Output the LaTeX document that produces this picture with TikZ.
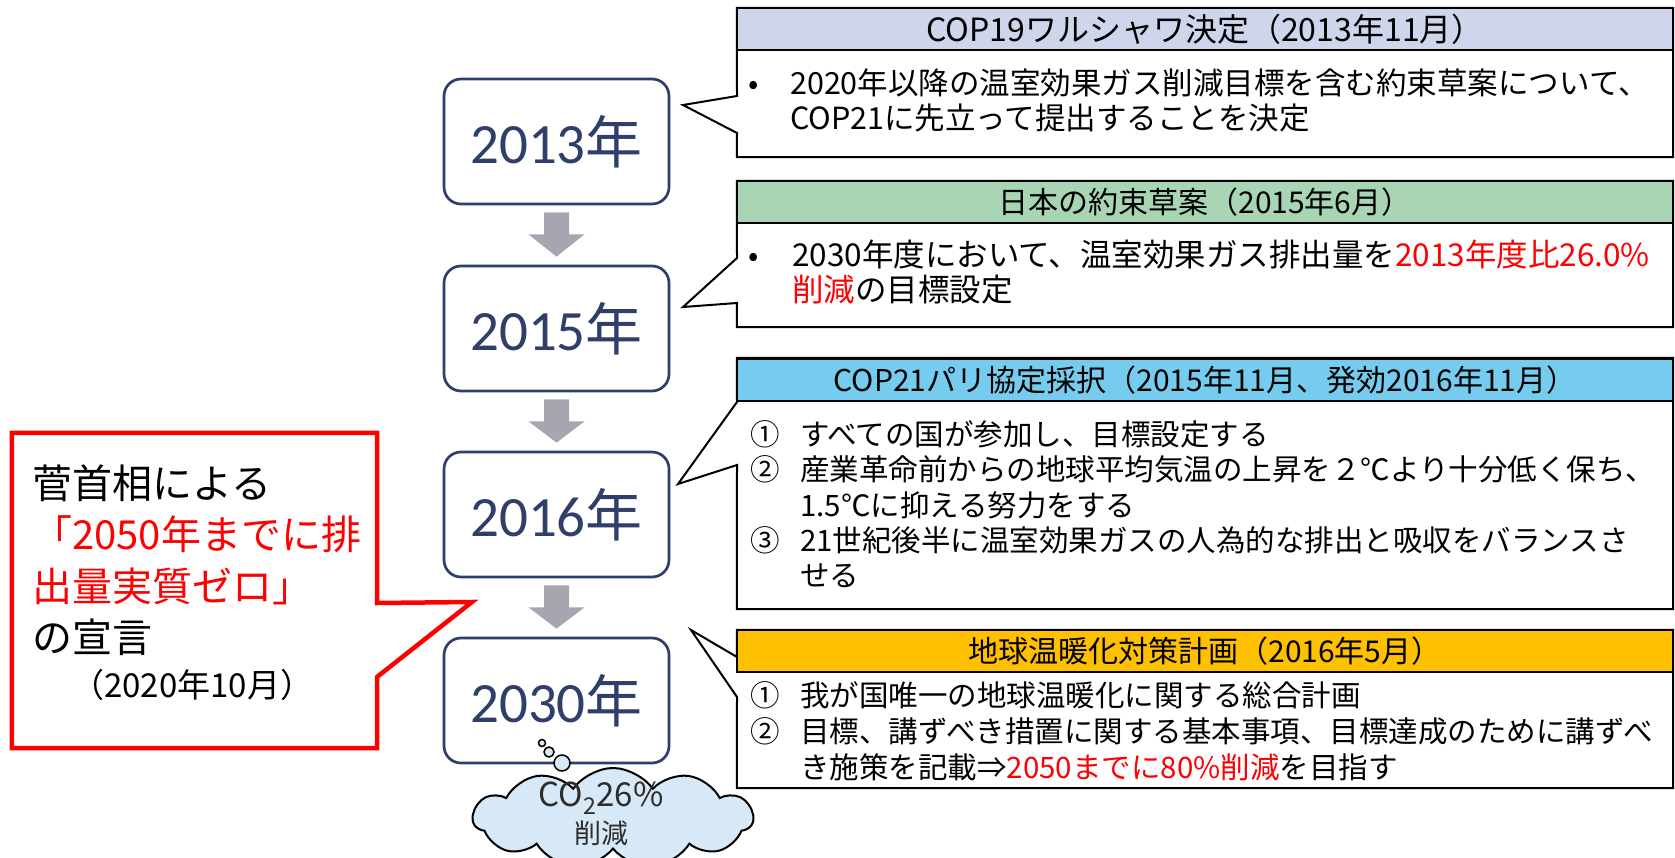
\documentclass[tikz,border=0pt]{standalone}
\usepackage{fontspec}
\setmainfont{Noto Sans CJK JP}
\newfontfamily\yearfont{Carlito}
\usetikzlibrary{shapes.symbols,calc}
\definecolor{navy}{RGB}{47,62,106}
\definecolor{agray}{RGB}{166,166,176}
\definecolor{hA}{RGB}{207,213,234}
\definecolor{hB}{RGB}{168,214,180}
\definecolor{hC}{RGB}{117,204,238}
\definecolor{hD}{RGB}{255,192,0}
\definecolor{cloudc}{RGB}{215,233,246}
\definecolor{redc}{RGB}{255,0,0}
\definecolor{cloudtext}{RGB}{45,45,45}
\newcommand\blockarrow[2]{%
  \fill[agray] ($(#1.south)+(-12.5,7)$) -- ($(#1.south)+(12.5,7)$) -- ($(#1.south)+(12.5,29)$)
   -- ($(#1.south)+(28,29)$) -- ($(#2.north)+(0,-8)$) -- ($(#1.south)+(-28,29)$)
   -- ($(#1.south)+(-12.5,29)$) -- cycle;}
\tikzset{
  yearbox/.style={draw=navy, line width=2.7pt, rounded corners=17pt, fill=white,
    minimum width=225pt, minimum height=125pt, text=navy, inner sep=0pt,
    font=\fontsize{57}{60}\selectfont},
  bodybox/.style={minimum width=936pt, inner sep=0pt},
  calloutline/.style={draw=black, line width=2pt, fill=white, line join=miter},
  headbox/.style={draw=black, line width=2pt, minimum width=936pt, minimum height=42pt,
    inner sep=0pt, font=\fontsize{30}{30}\selectfont},
  bodytxt/.style={anchor=base west, inner sep=0pt, font=\fontsize{30.5}{30}\selectfont},
  bodytxtc/.style={anchor=base west, inner sep=0pt, font=\fontsize{31.5}{30}\selectfont},
  bodytxtb/.style={anchor=base west, inner sep=0pt, font=\fontsize{29.5}{29}\selectfont},
  kantxt/.style={anchor=base west, inner sep=0pt, font=\fontsize{40}{40}\selectfont},
  bubble/.style={circle, draw=black, line width=1.5pt, fill=cloudc, inner sep=0pt},
}
\begin{document}
\begin{tikzpicture}[x=1pt,y=-1pt]
\useasboundingbox[fill=white] (0,0) rectangle (1675,858);

% ---------- year boxes ----------
\node[yearbox] (y2013) at (556.5,141.5) {{\yearfont 2013}年};
\node[yearbox] (y2015) at (556.5,328.5) {{\yearfont 2015}年};
\node[yearbox] (y2016) at (556.5,514.5) {{\yearfont 2016}年};
\node[yearbox] (y2030) at (556.5,700.5) {{\yearfont 2030}年};
\blockarrow{y2013}{y2015}
\blockarrow{y2015}{y2016}
\blockarrow{y2016}{y2030}

% ---------- callout 1 ----------
\node[bodybox, minimum height=149pt] (c1) at (1205,82.5) {};
\coordinate (c1a) at (737,96);
\coordinate (c1b) at (737,133);
\coordinate (t1) at (683,105);
\draw[calloutline] (c1.north west) -- (c1.north east) -- (c1.south east) -- (c1.south west)
  -- (c1b) -- (t1) -- (c1a) -- cycle;
\node[headbox, fill=hA, font=\fontsize{32}{32}\selectfont] (h1) at (1205,29) {COP19ワルシャワ決定（2013年11月）};
\node[bodytxt] (c1bul) at (748,95) {•};
\node[bodytxt] (c1l1) at (790,95) {2020年以降の温室効果ガス削減目標を含む約束草案について、};
\node[bodytxt] (c1l2) at (790,130) {COP21に先立って提出することを決定};

% ---------- callout 2 ----------
\node[bodybox, minimum height=146pt] (c2) at (1205,254) {};
\coordinate (c2a) at (737,258);
\coordinate (c2b) at (737,303);
\coordinate (t2) at (683,307);
\draw[calloutline] (c2.north west) -- (c2.north east) -- (c2.south east) -- (c2.south west)
  -- (c2b) -- (t2) -- (c2a) -- cycle;
\node[headbox, fill=hB] (h2) at (1205,202) {日本の約束草案（2015年6月）};
\node[bodytxt] (c2bul) at (748,267) {•};
\node[bodytxtc] (c2l1) at (792,267) {2030年度において、温室効果ガス排出量を\textcolor{redc}{2013年度比26.0\%}};
\node[bodytxtc] (c2l2) at (792,302) {\textcolor{redc}{削減}の目標設定};

% ---------- callout 3 ----------
\node[bodybox, minimum height=251pt] (c3) at (1205,483.5) {};
\coordinate (c3a) at (737,402);
\coordinate (c3b) at (737,465);
\coordinate (t3) at (678,484);
\draw[calloutline] (c3.north west) -- (c3.north east) -- (c3.south east) -- (c3.south west)
  -- (c3b) -- (t3) -- (c3a) -- cycle;
\node[headbox, fill=hC] (h3) at (1205,380) {COP21パリ協定採択（2015年11月、発効2016年11月）};
\node[bodytxtb] (c3n1) at (750,445) {①};
\node[bodytxtb] (c3l1) at (800,445) {すべての国が参加し、目標設定する};
\node[bodytxtb] (c3n2) at (750,480.5) {②};
\node[bodytxtb] (c3l2) at (800,480.5) {産業革命前からの地球平均気温の上昇を２℃より十分低く保ち、};
\node[bodytxtb] (c3l3) at (800,516) {1.5℃に抑える努力をする};
\node[bodytxtb] (c3n3) at (750,551.5) {③};
\node[bodytxtb] (c3l4) at (800,551.5) {21世紀後半に温室効果ガスの人為的な排出と吸収をバランスさ};
\node[bodytxtb] (c3l5) at (800,586.5) {せる};

% ---------- callout 4 ----------
\node[bodybox, minimum height=158pt] (c4) at (1205,709) {};
\coordinate (c4a) at (737,657);
\coordinate (c4b) at (737,697);
\coordinate (t4) at (691,630);
\draw[calloutline] (c4.north west) -- (c4.north east) -- (c4.south east) -- (c4.south west)
  -- (c4b) -- (t4) -- (c4a) -- cycle;
\node[headbox, fill=hD] (h4) at (1205,651) {地球温暖化対策計画（2016年5月）};
\node[bodytxtb] (c4n1) at (750,706) {①};
\node[bodytxtb] (c4l1) at (800,706) {我が国唯一の地球温暖化に関する総合計画};
\node[bodytxtb] (c4n2) at (750,742) {②};
\node[bodytxtb] (c4l2) at (800,742) {目標、講ずべき措置に関する基本事項、目標達成のために講ずべ};
\node[bodytxtb] (c4l3) at (800,778) {き施策を記載⇒\textcolor{redc}{2050までに80\%削減}を目指す};

% ---------- cloud ----------
\node[cloud, cloud puffs=11, cloud puff arc=110, aspect=3, draw=black, line width=2pt,
  fill=cloudc, minimum width=280pt, minimum height=100pt, inner sep=0pt] (cl) at (613,818) {};
\node[bubble, minimum size=16pt] (b3) at (562,763) {};
\node[bubble, minimum size=10pt] (b2) at (549,752) {};
\node[bubble, minimum size=7pt] (b1) at (542,743) {};
\node[inner sep=0pt, text=cloudtext, font=\fontsize{33}{33}\selectfont] (clt1) at (601,798) {CO\textsubscript{2}26\%};
\node[inner sep=0pt, text=cloudtext, font=\fontsize{27}{27}\selectfont] (clt2) at (601,833) {削減};

% ---------- red callout ----------
\node[minimum width=365pt, minimum height=315pt, inner sep=0pt] (kan) at (194.5,590.5) {};
\coordinate (ka) at (377,603);
\coordinate (kb) at (377,677);
\coordinate (kt) at (472,602);
\draw[draw=redc, line width=4.5pt, fill=white, line join=miter]
  (kan.north west) -- (kan.north east) -- (ka) -- (kt) -- (kb) -- (kan.south east)
  -- (kan.south west) -- cycle;
\node[kantxt] (k1) at (32,498) {菅首相による};
\node[kantxt, text=redc] (k2) at (32,549) {「2050年までに排};
\node[kantxt, text=redc] (k3) at (32,601) {出量実質ゼロ」};
\node[kantxt] (k4) at (32,652) {の宣言};
\node[anchor=base west, inner sep=0pt, font=\fontsize{33}{33}\selectfont] (k5) at (71,697) {（2020年10月）};
\end{tikzpicture}
\end{document}
